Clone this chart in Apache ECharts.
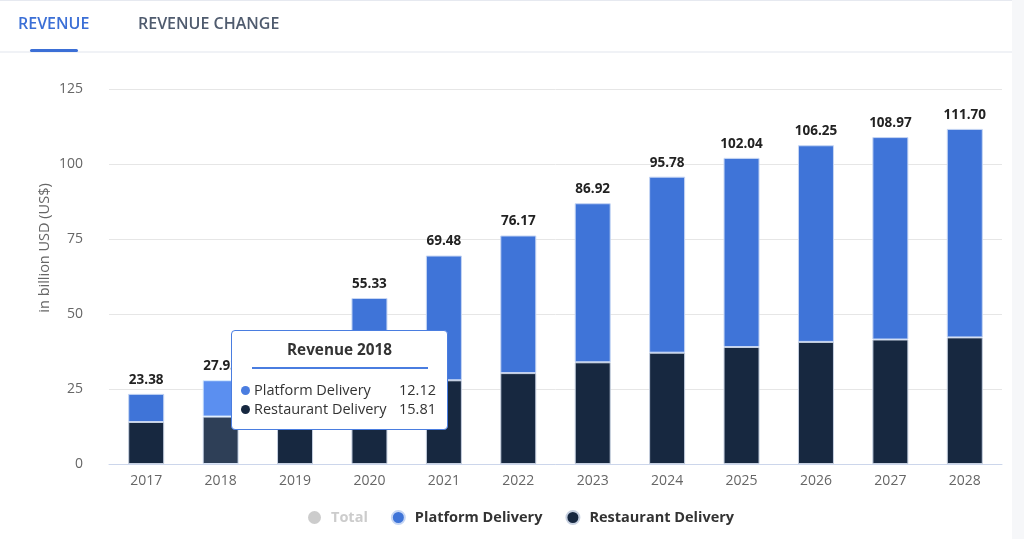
<!DOCTYPE html>
<html><head><meta charset="utf-8">
<script src="https://cdn.jsdelivr.net/npm/echarts@6/dist/echarts.min.js"></script>
<style>html,body{margin:0;padding:0;background:#fff;}#c{width:1024px;height:539px;}</style>
</head><body><div id="c"></div>
<script>
const years = ['2017','2018','2019','2020','2021','2022','2023','2024','2025','2026','2027','2028'];
const restaurantDelivery = [14.0, 15.81, 18.5, 25.5, 27.9, 30.3, 33.9, 37.1, 39.0, 40.7, 41.5, 42.2];
const platformDelivery = [9.38, 12.12, 16.5, 29.83, 41.58, 45.87, 53.02, 58.68, 63.04, 65.55, 67.47, 69.5];
const totals = [23.38, 27.93, 35.0, 55.33, 69.48, 76.17, 86.92, 95.78, 102.04, 106.25, 108.97, 111.70];
const yTicks = [0, 25, 50, 75, 100, 125];

const chart = echarts.init(document.getElementById('c'), null, {renderer:'canvas'});
const FONT = '"Open Sans", "Noto Sans", sans-serif';
const tooltipIndex = 1;

chart.setOption({
  animation: false,
  textStyle: {fontFamily: FONT},
  grid: {left: 109, right: 22, top: 89, bottom: 75, containLabel: false},
  legend: {
    bottom: 9, left: 303, itemGap: 23, icon: 'circle', itemWidth: 23, itemHeight: 13,
    data: ['Total', 'Platform Delivery', 'Restaurant Delivery'],
    selected: {'Total': false},
    inactiveColor: '#cccccc',
    textStyle: {fontFamily: FONT, fontSize: 14.5, fontWeight: 'bold', color: '#333'}
  },
  tooltip: {
    trigger: 'item', triggerOn: 'none', alwaysShowContent: true,
    position: function(){ return [231, 330]; },
    padding: 0, borderWidth: 1, borderColor: '#4a7de0', borderRadius: 4,
    backgroundColor: '#fff', extraCssText: 'box-shadow:none;',
    formatter: function(){
      const i = tooltipIndex;
      return '<div style="width:215px;height:98px;font-family:' + FONT.replace(/"/g,"'") + ';color:#333;box-sizing:border-box;padding:9px 11px 0 9px;">' +
        '<div style="text-align:center;font-weight:bold;font-size:15.3px;line-height:19px;padding-left:2px;">Revenue ' + years[i] + '</div>' +
        '<div style="height:2px;background:#4a7de0;margin:8px 8px 11px 11px;"></div>' +
        '<div style="font-size:14.5px;line-height:19px;display:flex;justify-content:space-between;"><span><span style="display:inline-block;width:9px;height:9px;border-radius:50%;background:#4a7de0;margin-right:4px;"></span>Platform Delivery</span><span>' + platformDelivery[i].toFixed(2) + '</span></div>' +
        '<div style="font-size:14.5px;line-height:19px;display:flex;justify-content:space-between;"><span><span style="display:inline-block;width:9px;height:9px;border-radius:50%;background:#172840;margin-right:4px;"></span>Restaurant Delivery</span><span>' + restaurantDelivery[i].toFixed(2) + '</span></div>' +
        '</div>';
    }
  },
  xAxis: {
    type: 'category', data: years,
    axisLine: {lineStyle: {color: '#ccd6eb'}},
    axisTick: {alignWithLabel: true, length: 6, lineStyle: {color: '#ccd6eb'}},
    axisLabel: {color: '#666', fontSize: 14, margin: 10, fontFamily: FONT}
  },
  yAxis: {
    type: 'value', min: 0, max: 125, interval: 25,
    axisLine: {show: false}, axisTick: {show: false},
    axisLabel: {color: '#666', fontSize: 14, margin: 26, fontFamily: FONT,
      formatter: v => yTicks.indexOf(v) >= 0 ? String(v) : ''},
    splitLine: {lineStyle: {color: '#e6e6e6'}}
  },
  graphic: [
    {type: 'rect', shape: {x: 0, y: 0, width: 1024, height: 1}, style: {fill: '#e6e9f0'}},
    {type: 'rect', shape: {x: 0, y: 51, width: 1012, height: 2}, style: {fill: '#f0f2f6'}},
    {type: 'rect', shape: {x: 1012, y: 0, width: 12, height: 539}, style: {fill: '#f6f7f9'}},
    {type: 'text', left: 18, top: 16, style: {text: 'REVENUE', fill: '#3b6fd6', font: '600 16px ' + FONT}},
    {type: 'rect', shape: {x: 30, y: 49, width: 48, height: 3, r: 1.5}, style: {fill: '#3b6fd6'}},
    {type: 'text', left: 138, top: 16, style: {text: 'REVENUE CHANGE', fill: '#4f5b6e', font: '600 16px ' + FONT}},
    {type: 'text', x: 45, y: 248, rotation: Math.PI/2, style: {text: 'in billion USD (US$)', fill: '#666', font: '14.5px ' + FONT, align: 'center', verticalAlign: 'middle'}}
  ],
  series: [
    {
      name: 'Restaurant Delivery', type: 'bar', stack: 'rev', barWidth: 36,
      data: restaurantDelivery,
      itemStyle: {color: '#172840', borderColor: '#c6d0e0', borderWidth: 1},
      emphasis: {focus: 'none', itemStyle: {color: '#2e3f57'}}
    },
    {
      name: 'Platform Delivery', type: 'bar', stack: 'rev', barWidth: 36,
      data: platformDelivery,
      itemStyle: {color: '#3f74d8', borderColor: '#c6d6f4', borderWidth: 1},
      emphasis: {focus: 'none', itemStyle: {color: '#5b8ff0'}, label: {show: true}},
      label: {show: true, position: 'top', distance: 7, color: '#222', fontSize: 13.5, fontWeight: 'bold', fontFamily: FONT,
        formatter: p => totals[p.dataIndex].toFixed(2)}
    },
    {
      name: 'Total', type: 'bar', data: totals, itemStyle: {color: '#cccccc'}
    }
  ]
});
chart.dispatchAction({type: 'highlight', seriesIndex: [0, 1], dataIndex: 1});
chart.dispatchAction({type: 'showTip', seriesIndex: 1, dataIndex: 1});
</script>
</body></html>
